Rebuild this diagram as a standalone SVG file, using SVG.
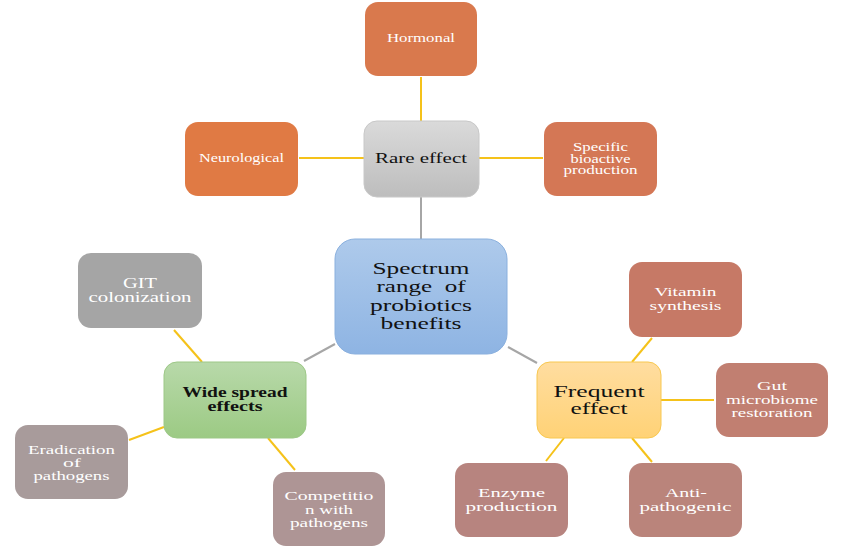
<svg xmlns="http://www.w3.org/2000/svg" width="858" height="548" viewBox="0 0 858 548">
<defs>
<linearGradient id="gBlue" x1="0" y1="0" x2="0" y2="1"><stop offset="0" stop-color="#AECAEB"/><stop offset="1" stop-color="#8EB4E3"/></linearGradient>
<linearGradient id="gGray" x1="0" y1="0" x2="0" y2="1"><stop offset="0" stop-color="#DADADA"/><stop offset="1" stop-color="#BDBDBD"/></linearGradient>
<linearGradient id="gGreen" x1="0" y1="0" x2="0" y2="1"><stop offset="0" stop-color="#B8D9AA"/><stop offset="1" stop-color="#9CCA84"/></linearGradient>
<linearGradient id="gYellow" x1="0" y1="0" x2="0" y2="1"><stop offset="0" stop-color="#FFDDA0"/><stop offset="1" stop-color="#FFD276"/></linearGradient>
</defs>
<style>
text{font-family:"Liberation Serif","Times New Roman",serif;text-anchor:middle}
.w{fill:#ffffff}
.k{fill:#111111}
.yl{stroke:#F5C21A;stroke-width:2;fill:none}
.gl{stroke:#A6A6A6;stroke-width:2;fill:none}
</style>
<rect width="858" height="548" fill="#ffffff"/>
<g id="connectors">
<line class="yl" x1="421" y1="77" x2="421" y2="121"/>
<line class="yl" x1="299" y1="158" x2="364" y2="158"/>
<line class="yl" x1="479" y1="158" x2="543" y2="158"/>
<line class="gl" x1="421" y1="197" x2="421" y2="239"/>
<line class="gl" x1="335" y1="344" x2="304" y2="361"/>
<line class="gl" x1="508" y1="347" x2="537" y2="363"/>
<line class="yl" x1="174" y1="330" x2="202" y2="362"/>
<line class="yl" x1="164" y1="427" x2="129" y2="440"/>
<line class="yl" x1="268" y1="438" x2="295" y2="470"/>
<line class="yl" x1="632" y1="362" x2="652" y2="338"/>
<line class="yl" x1="661" y1="400" x2="714" y2="400"/>
<line class="yl" x1="564" y1="438" x2="546" y2="461"/>
<line class="yl" x1="632" y1="438" x2="652" y2="462"/>
</g>
<g id="center">
<rect x="335" y="239" width="172" height="115" rx="20" fill="url(#gBlue)" stroke="#8AB0DE" stroke-width="1"/>
<text class="k" font-size="17" x="421" y="274" textLength="97" lengthAdjust="spacingAndGlyphs">Spectrum</text>
<text class="k" font-size="17" x="421" y="292" textLength="89" lengthAdjust="spacingAndGlyphs" xml:space="preserve">range  of</text>
<text class="k" font-size="17" x="421" y="311" textLength="102" lengthAdjust="spacingAndGlyphs">probiotics</text>
<text class="k" font-size="17" x="421" y="329" textLength="81" lengthAdjust="spacingAndGlyphs">benefits</text>
</g>
<g id="rare">
<rect x="364" y="121" width="115" height="76" rx="13" fill="url(#gGray)" stroke="#C8C8C8" stroke-width="1"/>
<text class="k" font-size="15" x="421" y="163" textLength="92" lengthAdjust="spacingAndGlyphs">Rare effect</text>
</g>
<g id="hormonal">
<rect x="365" y="2" width="112" height="74" rx="13" fill="#D9794D"/>
<text class="w" font-size="12.5" x="421" y="42" textLength="68" lengthAdjust="spacingAndGlyphs">Hormonal</text>
</g>
<g id="neurological">
<rect x="185" y="122" width="113" height="74" rx="13" fill="#E07A44"/>
<text class="w" font-size="12.5" x="241.5" y="162" textLength="85" lengthAdjust="spacingAndGlyphs">Neurological</text>
</g>
<g id="specific">
<rect x="544" y="122" width="113" height="74" rx="13" fill="#D47755"/>
<text class="w" font-size="11.5" x="600.5" y="151" textLength="55" lengthAdjust="spacingAndGlyphs">Specific</text>
<text class="w" font-size="11.5" x="600.5" y="162.5" textLength="60" lengthAdjust="spacingAndGlyphs">bioactive</text>
<text class="w" font-size="11.5" x="600.5" y="174" textLength="74" lengthAdjust="spacingAndGlyphs">production</text>
</g>
<g id="wide">
<rect x="164" y="362" width="142" height="76" rx="13" fill="url(#gGreen)" stroke="#9DC887" stroke-width="1"/>
<text class="k" font-size="14" font-weight="bold" x="235" y="397" textLength="105" lengthAdjust="spacingAndGlyphs">Wide spread</text>
<text class="k" font-size="14" font-weight="bold" x="235" y="411" textLength="55" lengthAdjust="spacingAndGlyphs">effects</text>
</g>
<g id="git">
<rect x="78" y="253" width="124" height="75" rx="13" fill="#A5A5A5"/>
<text class="w" font-size="14" x="140" y="288" textLength="34" lengthAdjust="spacingAndGlyphs">GIT</text>
<text class="w" font-size="14" x="140" y="302" textLength="103" lengthAdjust="spacingAndGlyphs">colonization</text>
</g>
<g id="eradication">
<rect x="15" y="425" width="113" height="74" rx="13" fill="#A89B9B"/>
<text class="w" font-size="12.5" x="71.5" y="454" textLength="87" lengthAdjust="spacingAndGlyphs">Eradication</text>
<text class="w" font-size="12.5" x="72" y="467" textLength="18" lengthAdjust="spacingAndGlyphs">of</text>
<text class="w" font-size="12.5" x="71.5" y="479.5" textLength="76" lengthAdjust="spacingAndGlyphs">pathogens</text>
</g>
<g id="competition">
<rect x="273" y="472" width="112" height="74" rx="13" fill="#AE9595"/>
<text class="w" font-size="13" x="329" y="500" textLength="89" lengthAdjust="spacingAndGlyphs">Competitio</text>
<text class="w" font-size="13" x="329" y="513.5" textLength="48" lengthAdjust="spacingAndGlyphs">n with</text>
<text class="w" font-size="13" x="329" y="527" textLength="78" lengthAdjust="spacingAndGlyphs">pathogens</text>
</g>
<g id="frequent">
<rect x="537" y="362" width="124" height="76" rx="13" fill="url(#gYellow)" stroke="#F8C850" stroke-width="1"/>
<text class="k" font-size="16" x="599" y="397" textLength="91" lengthAdjust="spacingAndGlyphs">Frequent</text>
<text class="k" font-size="16" x="599" y="414" textLength="57" lengthAdjust="spacingAndGlyphs">effect</text>
</g>
<g id="vitamin">
<rect x="629" y="262" width="113" height="75" rx="13" fill="#C67966"/>
<text class="w" font-size="13.5" x="685.5" y="296" textLength="62" lengthAdjust="spacingAndGlyphs">Vitamin</text>
<text class="w" font-size="13.5" x="685.5" y="310" textLength="72" lengthAdjust="spacingAndGlyphs">synthesis</text>
</g>
<g id="gut">
<rect x="716" y="363" width="112" height="74" rx="13" fill="#C17F71"/>
<text class="w" font-size="13" x="772" y="390" textLength="30" lengthAdjust="spacingAndGlyphs">Gut</text>
<text class="w" font-size="13" x="772" y="403.5" textLength="92" lengthAdjust="spacingAndGlyphs">microbiome</text>
<text class="w" font-size="13" x="772" y="417" textLength="81" lengthAdjust="spacingAndGlyphs">restoration</text>
</g>
<g id="enzyme">
<rect x="455" y="463" width="113" height="74" rx="13" fill="#B7847F"/>
<text class="w" font-size="13.5" x="511.5" y="497" textLength="67" lengthAdjust="spacingAndGlyphs">Enzyme</text>
<text class="w" font-size="13.5" x="511.5" y="511" textLength="92" lengthAdjust="spacingAndGlyphs">production</text>
</g>
<g id="anti">
<rect x="629" y="463" width="113" height="74" rx="13" fill="#BA847B"/>
<text class="w" font-size="13.5" x="686" y="497" textLength="42" lengthAdjust="spacingAndGlyphs">Anti-</text>
<text class="w" font-size="13.5" x="685.5" y="511" textLength="92" lengthAdjust="spacingAndGlyphs">pathogenic</text>
</g>
</svg>
